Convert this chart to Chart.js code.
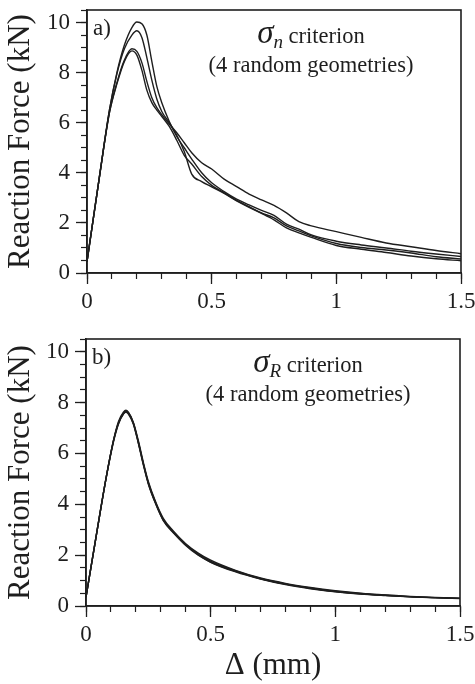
<!DOCTYPE html>
<html>
<head>
<meta charset="utf-8">
<script src="https://cdn.jsdelivr.net/npm/chart.js@4.4.0/dist/chart.umd.min.js"></script>
<style>
  body { margin: 0; background: #fff; }
  canvas { display: block; }
</style>
</head>
<body>
<canvas id="chartA" width="475" height="320"></canvas>
<canvas id="chartB" width="475" height="364"></canvas>
<script>
// displacement (mm) for panel a) and the four sigma_n runs (kN)
const dispA = [0, 0.05, 0.09, 0.12, 0.15, 0.18, 0.2, 0.22, 0.24, 0.26, 0.28, 0.3, 0.33, 0.36, 0.39, 0.42,
  0.46, 0.5, 0.55, 0.6, 0.65, 0.7, 0.75, 0.8, 0.85, 0.9, 1.0, 1.1, 1.2, 1.3, 1.4, 1.5];
const sigmaN1 = [0.45, 3.85, 6.5, 8.0, 9.1, 9.8, 10.02, 9.95, 9.5, 8.45, 7.45, 6.8, 6.05, 5.45, 5.0, 4.55,
  4.0, 3.6, 3.25, 2.95, 2.72, 2.5, 2.3, 1.95, 1.75, 1.52, 1.27, 1.12, 1.0, 0.87, 0.76, 0.66];
const sigmaN2 = [0.45, 3.85, 6.5, 7.95, 8.95, 9.5, 9.67, 9.4, 8.6, 7.7, 6.95, 6.45, 6.0, 5.5, 4.85, 3.95,
  3.65, 3.44, 3.18, 2.88, 2.62, 2.38, 2.12, 1.8, 1.6, 1.42, 1.1, 0.95, 0.82, 0.68, 0.57, 0.49];
const sigmaN3 = [0.45, 3.85, 6.4, 7.6, 8.5, 8.95, 8.85, 8.4, 7.65, 7.0, 6.6, 6.32, 5.95, 5.6, 5.2, 4.8,
  4.4, 4.15, 3.75, 3.45, 3.15, 2.92, 2.7, 2.4, 2.05, 1.88, 1.65, 1.42, 1.2, 1.05, 0.9, 0.77];
const sigmaN4 = [0.45, 3.85, 6.4, 7.55, 8.45, 8.87, 8.7, 8.1, 7.3, 6.8, 6.5, 6.25, 5.85, 5.3, 4.7, 4.35,
  3.85, 3.5, 3.2, 2.9, 2.65, 2.4, 2.2, 1.88, 1.68, 1.48, 1.18, 1.02, 0.92, 0.8, 0.65, 0.56];

// displacement (mm) for panel b) and the four sigma_R runs (kN)
const dispB = [0, 0.04, 0.08, 0.11, 0.13, 0.15, 0.16, 0.17, 0.19, 0.21, 0.23, 0.25, 0.28, 0.31,
  0.35, 0.4, 0.45, 0.5, 0.6, 0.7, 0.8, 0.9, 1.0, 1.1, 1.2, 1.3, 1.4, 1.5];
const sigmaR1 = [0.35, 2.7, 5.0, 6.5, 7.2, 7.58, 7.66, 7.6, 7.2, 6.45, 5.6, 4.85, 4.05, 3.4,
  2.92, 2.42, 2.05, 1.76, 1.38, 1.08, 0.87, 0.71, 0.58, 0.49, 0.42, 0.37, 0.33, 0.3];
const sigmaR2 = [0.35, 2.7, 5.0, 6.45, 7.15, 7.55, 7.62, 7.55, 7.15, 6.4, 5.55, 4.8, 4.0, 3.36,
  2.88, 2.4, 2.02, 1.72, 1.34, 1.06, 0.84, 0.68, 0.56, 0.47, 0.41, 0.36, 0.32, 0.29];
const sigmaR3 = [0.35, 2.7, 5.0, 6.5, 7.25, 7.62, 7.7, 7.62, 7.22, 6.5, 5.65, 4.9, 4.08, 3.45,
  2.95, 2.45, 2.08, 1.8, 1.4, 1.1, 0.89, 0.73, 0.6, 0.5, 0.43, 0.38, 0.34, 0.31];
const sigmaR4 = [0.35, 2.7, 5.0, 6.48, 7.18, 7.56, 7.64, 7.58, 7.18, 6.42, 5.58, 4.82, 4.02, 3.38,
  2.9, 2.38, 2.0, 1.73, 1.36, 1.07, 0.86, 0.7, 0.57, 0.48, 0.42, 0.36, 0.33, 0.3];

const yTitle = 'Reaction Force (kN)';
const xTitle = 'Δ (mm)';

const FONT = '"Liberation Serif", "Times New Roman", serif';
const INK = '#1e1e1e';

function curve(xs, ys) {
  return xs.map((x, i) => ({ x: x, y: ys[i] }));
}

// box around the plot area
const framePlugin = {
  id: 'frame',
  afterDatasetsDraw(chart) {
    const { ctx, chartArea: a } = chart;
    ctx.save();
    ctx.strokeStyle = INK;
    ctx.lineWidth = 1.6;
    ctx.strokeRect(a.left, a.top, a.right - a.left, a.bottom - a.top);
    ctx.restore();
  },
};

// panel tag + criterion text inside the plot
const notePlugin = {
  id: 'note',
  afterDraw(chart, args, o) {
    const { ctx, chartArea: a } = chart;
    ctx.save();
    ctx.fillStyle = INK;
    ctx.textBaseline = 'alphabetic';
    ctx.textAlign = 'left';
    ctx.font = '23px ' + FONT;
    ctx.fillText(o.tag, a.left + 6, a.top + 25);

    const big = 'italic 33px ' + FONT;
    const small = 'italic 19px ' + FONT;
    const body = '22.5px ' + FONT;
    ctx.font = big;
    const w1 = ctx.measureText('σ').width;
    ctx.font = small;
    const w2 = ctx.measureText(o.sub).width;
    ctx.font = body;
    const w3 = ctx.measureText(' criterion').width;
    let x = a.left + o.cx - (w1 + w2 + w3) / 2;
    const y1 = a.top + 33;
    ctx.font = big;
    ctx.fillText('σ', x, y1);
    x += w1;
    ctx.font = small;
    ctx.fillText(o.sub, x, y1 + 5);
    x += w2;
    ctx.font = body;
    ctx.fillText(' criterion', x, y1);

    ctx.textAlign = 'center';
    ctx.fillText('(4 random geometries)', a.left + o.cx, a.top + 62);
    ctx.restore();
  },
};

function makeConfig(xs, runs, note, box) {
  const datasets = runs.map((ys) => ({
    data: curve(xs, ys),
    borderColor: INK,
    borderWidth: 1.4,
    pointRadius: 0,
    fill: false,
    cubicInterpolationMode: 'monotone',
  }));

  return {
    type: 'line',
    data: { datasets: datasets },
    plugins: [framePlugin, notePlugin],
    options: {
      responsive: false,
      animation: false,
      events: [],
      layout: { padding: { top: box.top, right: box.right, left: 0, bottom: 0 } },
      plugins: {
        legend: { display: false },
        tooltip: { enabled: false },
        note: note,
      },
      scales: {
        x: {
          type: 'linear',
          position: 'bottom',
          weight: 1,
          min: 0,
          max: 1.5,
          ticks: {
            stepSize: 0.5,
            autoSkip: false,
            maxRotation: 0,
            padding: 4,
            color: INK,
            font: { family: FONT, size: 23 },
            callback: (v) => String(+v.toFixed(1)),
          },
          grid: { drawOnChartArea: false, tickLength: 11, tickColor: INK, tickWidth: 1.3 },
          border: { color: INK, width: 1.6 },
          title: {
            display: box.xTitle,
            text: xTitle,
            color: INK,
            font: { family: FONT, size: 31 },
            padding: { top: 4, bottom: 0 },
          },
          afterFit(s) {
            s.height = box.xHeight;
            s.paddingLeft = 0;
            s.paddingRight = 0;
          },
        },
        xMinor: {
          type: 'linear',
          position: 'bottom',
          weight: 0,
          min: 0,
          max: 1.5,
          ticks: { stepSize: 0.1, display: false },
          grid: { drawOnChartArea: false, tickLength: 6, tickColor: INK, tickWidth: 1.2 },
          border: { display: false },
          afterFit(s) {
            s.height = 0;
          },
        },
        y: {
          type: 'linear',
          position: 'left',
          weight: 1,
          min: 0,
          max: 10.5,
          ticks: {
            stepSize: 2,
            includeBounds: false,
            autoSkip: false,
            padding: 6,
            color: INK,
            font: { family: FONT, size: 23 },
          },
          grid: { drawOnChartArea: false, tickLength: 11, tickColor: INK, tickWidth: 1.3 },
          border: { color: INK, width: 1.6 },
          title: {
            display: true,
            text: yTitle,
            color: INK,
            font: { family: FONT, size: 31 },
            padding: { top: 2, bottom: 0 },
          },
          afterFit(s) {
            s.width = box.left;
            s.paddingTop = 0;
            s.paddingBottom = 0;
          },
        },
        yMinor: {
          type: 'linear',
          position: 'left',
          weight: 0,
          min: 0,
          max: 10.5,
          ticks: { stepSize: 0.5, display: false },
          grid: { drawOnChartArea: false, tickLength: 6, tickColor: INK, tickWidth: 1.2 },
          border: { display: false },
          afterFit(s) {
            s.width = 0;
          },
        },
      },
    },
  };
}

new Chart(
  document.getElementById('chartA'),
  makeConfig(dispA, [sigmaN1, sigmaN2, sigmaN3, sigmaN4],
    { tag: 'a)', sub: 'n', cx: 224 },
    { top: 10, right: 14, left: 87, xHeight: 47, xTitle: false })
);

new Chart(
  document.getElementById('chartB'),
  makeConfig(dispB, [sigmaR1, sigmaR2, sigmaR3, sigmaR4],
    { tag: 'b)', sub: 'R', cx: 222 },
    { top: 19, right: 15, left: 86, xHeight: 78, xTitle: true })
);
</script>
</body>
</html>
